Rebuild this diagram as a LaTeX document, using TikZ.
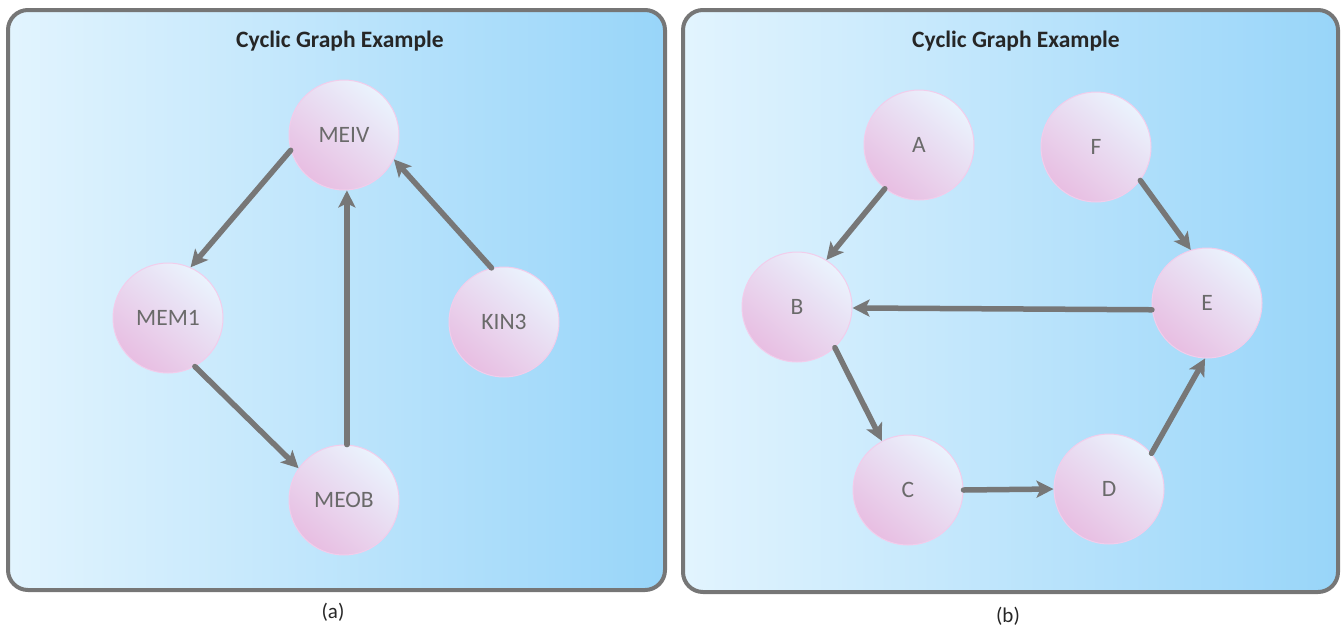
\documentclass[tikz,border=0pt]{standalone}
\usepackage{fontspec}
\setmainfont{Carlito}
\usetikzlibrary{arrows.meta,positioning,calc}

\definecolor{frame}{HTML}{767676}
\definecolor{arrowgray}{HTML}{777777}
\definecolor{txtgray}{HTML}{6A6A6A}
\definecolor{bgleft}{HTML}{E2F4FE}
\definecolor{bgright}{HTML}{98D5F9}
\definecolor{ballpink}{HTML}{E8BEE2}
\definecolor{balllight}{HTML}{EAF3FD}
\definecolor{ballrim}{HTML}{F2CDEB}

\tikzset{
	panel/.style={draw=frame, line width=4pt, rounded corners=20pt,
		left color=bgleft, right color=bgright},
	vertex/.style={circle, minimum size=110pt, inner sep=0pt, draw=ballrim, line width=1pt,
		top color=balllight, bottom color=ballpink, shading angle=-40,
		text=txtgray, font=\fontsize{23.5}{23.5}\selectfont},
	edge/.style={draw=arrowgray, line width=5.5pt, line cap=round,
		-{Stealth[length=17pt,width=17pt,inset=4pt]}},
	title/.style={font=\fontsize{23.5}{23.5}\selectfont\bfseries, text=black!85},
	caption/.style={font=\fontsize{21}{21}\selectfont, text=black!85}
}

\begin{document}
\begin{tikzpicture}[x=1pt,y=-1pt]
	\useasboundingbox (0,0) rectangle (1341,630);

	% panel (a)
	\path[panel] (8,10) rectangle (665,590);
	\node[title] (ta) at (340,41) {Cyclic Graph Example};
	\node[caption] (ca) at (333,612) {(a)};

	\node[vertex] (meiv) at (344,135) {MEIV};
	\node[vertex] (mem1) at (168,318) {MEM1};
	\node[vertex] (kin3) at (504,322) {KIN3};
	\node[vertex] (meob) at (344,500) {MEOB};

	\draw[edge] (meiv.196) -- (mem1.66);
	\draw[edge] (mem1.299) -- (meob.145);
	\draw[edge] (meob.87) -- (meiv.273);
	\draw[edge] (kin3.103) -- (meiv.334);

	% panel (b)
	\path[panel] (683,10) rectangle (1338,592);
	\node[title] (tb) at (1016,41) {Cyclic Graph Example};
	\node[caption] (cb) at (1008,616) {(b)};

	\node[vertex] (a) at (919,145) {A};
	\node[vertex] (f) at (1096,147) {F};
	\node[vertex] (b) at (797,307) {B};
	\node[vertex] (e) at (1207,303) {E};
	\node[vertex] (c) at (908,490) {C};
	\node[vertex] (d) at (1109,489) {D};

	\draw[edge] (a.232) -- (b.58);
	\draw[edge] (f.323) -- (e.107);
	\draw[edge] (e.187) -- (b.359);
	\draw[edge] (b.313) -- (c.118);
	\draw[edge] (c.east) -- (d.west);
	\draw[edge] (d.40) -- (e.268);
\end{tikzpicture}
\end{document}
